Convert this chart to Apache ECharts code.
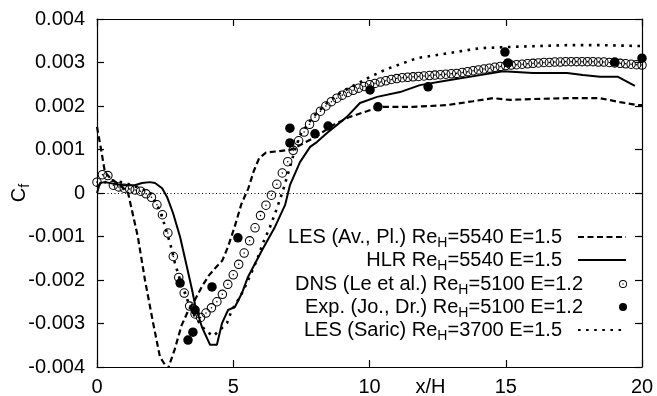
<!DOCTYPE html>
<html>
<head>
<meta charset="utf-8">
<script src="https://cdn.jsdelivr.net/npm/echarts@6/dist/echarts.min.js"></script>
<style>
  html, body { margin: 0; padding: 0; background: #fff; }
  #chart { width: 657px; height: 396px; }
</style>
</head>
<body>
<div id="chart"></div>
<script>
// Skin-friction coefficient along the lower wall, x/H from 0 to 20.

// LES (Av., Pl.), Re_H = 5540, E = 1.5
const lesAvX  = [0, 0.15, 0.29, 0.5, 0.84, 1.14, 1.5, 1.76, 2.06, 2.31, 2.6, 2.85, 3.1, 3.35, 3.6, 3.85, 4.1, 4.35, 4.6, 4.8, 5.05, 5.3, 5.55, 5.75, 5.95, 6.2, 7.08, 7.45, 8.07, 8.66, 9.28, 10.39, 11.6, 12.84, 13.8, 14.53, 15.16, 16.0, 17.25, 18.46, 19.19, 19.82, 20.0];
const lesAvCf = [0.00152, 0.00100, 0.00048, 0.00033, 0.00018, 0.0, -0.00101, -0.00200, -0.00299, -0.00377, -0.00405, -0.00360, -0.00305, -0.00270, -0.00245, -0.00215, -0.00190, -0.00172, -0.00155, -0.00125, -0.00078, -0.00025, 0.00010, 0.00050, 0.00080, 0.00093, 0.00099, 0.00110, 0.00131, 0.00156, 0.00175, 0.00198, 0.00198, 0.00202, 0.00211, 0.00218, 0.00214, 0.00216, 0.00218, 0.00218, 0.00209, 0.00202, 0.00202];

// HLR, Re_H = 5540, E = 1.5
const hlrX  = [0, 0.11, 0.29, 0.92, 1.39, 1.65, 1.94, 2.13, 2.39, 2.57, 2.79, 3.05, 3.30, 3.49, 3.60, 3.85, 4.15, 4.40, 4.59, 4.81, 5.06, 5.32, 5.54, 6.06, 6.53, 6.90, 7.08, 7.45, 7.82, 8.07, 8.44, 9.17, 9.65, 10.28, 11.12, 11.85, 12.95, 14.06, 14.90, 16.0, 17.25, 17.83, 18.46, 19.12, 19.74];
const hlrCf = [0.0, 0.00023, 0.00025, 0.00018, 0.00018, 0.00023, 0.00025, 0.00023, 0.00011, -0.00009, -0.00046, -0.00101, -0.00170, -0.00223, -0.00257, -0.00308, -0.00349, -0.00349, -0.00299, -0.00269, -0.00262, -0.00230, -0.00193, -0.00131, -0.00078, -0.00028, 0.00018, 0.00071, 0.00106, 0.00117, 0.00138, 0.00175, 0.00207, 0.00221, 0.00232, 0.00248, 0.00260, 0.00271, 0.00280, 0.00276, 0.00276, 0.00271, 0.00267, 0.00267, 0.00246];

// DNS (Le et al.), Re_H = 5100, E = 1.2
const dnsX  = [0.0, 0.2, 0.4, 0.6, 0.8, 1.0, 1.2, 1.4, 1.6, 1.8, 2.0, 2.2, 2.4, 2.6, 2.8, 3.0, 3.2, 3.4, 3.6, 3.8, 4.0, 4.2, 4.4, 4.6, 4.8, 5.0, 5.2, 5.4, 5.6, 5.8, 6.0, 6.2, 6.4, 6.6, 6.8, 7.0, 7.2, 7.4, 7.6, 7.8, 8.0, 8.2, 8.4, 8.6, 8.8, 9.0, 9.2, 9.4, 9.6, 9.8, 10.0, 10.2, 10.4, 10.6, 10.8, 11.0, 11.2, 11.4, 11.6, 11.8, 12.0, 12.2, 12.4, 12.6, 12.8, 13.0, 13.2, 13.4, 13.6, 13.8, 14.0, 14.2, 14.4, 14.6, 14.8, 15.0, 15.2, 15.4, 15.6, 15.8, 16.0, 16.2, 16.4, 16.6, 16.8, 17.0, 17.2, 17.4, 17.6, 17.8, 18.0, 18.2, 18.4, 18.6, 18.8, 19.0, 19.2, 19.4, 19.6, 19.8, 20.0];
const dnsCf = [0.00025, 0.00042, 0.00040, 0.00018, 0.00014, 0.00011, 0.00009, 0.00007, 0.00004, -0.00002, -0.00010, -0.00027, -0.00050, -0.00092, -0.00146, -0.00194, -0.00230, -0.00260, -0.00278, -0.00286, -0.00276, -0.00264, -0.00250, -0.00233, -0.00210, -0.00188, -0.00164, -0.00138, -0.00110, -0.00080, -0.00052, -0.00028, -0.00005, 0.00020, 0.00046, 0.00072, 0.00098, 0.00120, 0.00140, 0.00158, 0.00174, 0.00188, 0.00200, 0.00210, 0.00218, 0.00225, 0.00231, 0.00236, 0.00241, 0.00245, 0.00249, 0.00252, 0.00255, 0.00258, 0.00261, 0.00263, 0.00265, 0.00266, 0.00267, 0.00268, 0.00269, 0.00270, 0.00271, 0.00272, 0.00273, 0.00274, 0.00275, 0.00277, 0.00279, 0.00281, 0.00283, 0.00285, 0.00287, 0.00289, 0.00291, 0.00293, 0.00294, 0.00295, 0.00296, 0.00297, 0.00298, 0.00299, 0.00300, 0.00300, 0.00301, 0.00301, 0.00302, 0.00302, 0.00302, 0.00302, 0.00302, 0.00302, 0.00301, 0.00301, 0.00300, 0.00299, 0.00298, 0.00297, 0.00296, 0.00295, 0.00294];

// Experiment (Jo., Dr.), Re_H = 5100, E = 1.2
const expX  = [3.05, 3.34, 3.52, 3.60, 4.22, 5.17, 7.08, 7.08, 8.00, 8.48, 10.02, 10.31, 12.15, 14.97, 15.08, 19.00, 20.00];
const expCf = [-0.00207, -0.00338, -0.00320, -0.00269, -0.00216, -0.00103, 0.00115, 0.00149, 0.00136, 0.00154, 0.00237, 0.00198, 0.00244, 0.00324, 0.00299, 0.00301, 0.00310];

// LES (Saric), Re_H = 3700, E = 1.5
const saricX  = [0, 0.48, 1.03, 1.58, 1.94, 2.24, 2.39, 2.57, 2.75, 2.86, 3.05, 3.23, 3.41, 3.60, 3.96, 4.26, 4.51, 4.77, 4.95, 5.25, 5.50, 5.87, 6.09, 6.35, 6.61, 6.83, 7.08, 7.27, 7.45, 7.93, 8.44, 8.92, 9.39, 10.02, 10.64, 11.74, 12.95, 14.06, 15.27, 17.25, 18.46, 19.85, 20.0];
const saricCf = [0.00015, 0.00030, 0.00023, 0.00011, 0.00002, -0.00032, -0.00055, -0.00092, -0.00131, -0.00161, -0.00200, -0.00230, -0.00262, -0.00285, -0.00315, -0.00329, -0.00315, -0.00299, -0.00269, -0.00239, -0.00207, -0.00154, -0.00115, -0.00078, -0.00034, 0.00007, 0.00060, 0.00100, 0.00133, 0.00175, 0.00207, 0.00230, 0.00246, 0.00267, 0.00285, 0.00310, 0.00322, 0.00333, 0.00336, 0.00340, 0.00340, 0.00338, 0.00338];

// Legend captions
const seriesNames = ['LES (Av., Pl.)', 'HLR', 'DNS (Le et al.)', 'Exp. (Jo., Dr.)', 'LES (Saric)'];
const legendRe = ['5540', '5540', '5100', '5100', '3700'];
const legendE  = ['1.5', '1.5', '1.2', '1.2', '1.5'];

// Axis ticks
const xMin = 0, xMax = 20, xStep = 5;
const yMin = -0.004, yMax = 0.004, yStep = 0.001;

const FONT = 'Liberation Sans';
const FS = 20;
const zip = (xs, ys) => xs.map((x, i) => [x, ys[i]]);

// open ring with a centre dot
const ringDot = 'path://M0,-10A10,10 0 1,1 0,10A10,10 0 1,1 0,-10Z' +
  'M0,-7.8A7.8,7.8 0 1,0 0,7.8A7.8,7.8 0 1,0 0,-7.8Z' +
  'M0,-1.6A1.6,1.6 0 1,1 0,1.6A1.6,1.6 0 1,1 0,-1.6Z';

const chart = echarts.init(document.getElementById('chart'), null, { renderer: 'canvas' });

const subRich = {
  s: { fontFamily: FONT, fontSize: 14, color: '#000', verticalAlign: 'bottom', lineHeight: 15 },
  g: { width: 11 }
};

const lineSeries = [true, true, false, false, true];
const legendRows = [224, 247, 271, 294, 317];
const legends = seriesNames.map((name, i) => ({
  data: [name],
  orient: 'vertical',
  right: 30,
  top: legendRows[i],
  align: 'right',
  itemWidth: 48,
  itemHeight: 8,
  padding: 0,
  selectedMode: false,
  itemStyle: lineSeries[i] ? { opacity: 0 } : {},
  formatter: n => n + ' Re{s|H}=' + legendRe[i] + ' E=' + legendE[i] + '{g|}',
  textStyle: { fontFamily: FONT, fontSize: FS, color: '#000', lineHeight: 26, rich: subRich }
}));

const axisLine = { show: true, onZero: false, lineStyle: { color: '#000', width: 1.2 } };
const axisTick = { show: true, inside: true, length: 7, lineStyle: { color: '#000', width: 1.2 } };

chart.setOption({
  animation: false,
  backgroundColor: '#fff',
  grid: { left: 97, right: 15, top: 19, bottom: 29, containLabel: false, outerBoundsMode: 'none' },
  legend: legends,
  xAxis: [
    {
      type: 'value', min: xMin, max: xMax, interval: xStep, position: 'bottom',
      axisLine, axisTick, splitLine: { show: false },
      axisLabel: { fontFamily: FONT, fontSize: FS, color: '#000', margin: 10 },
      name: 'x/H', nameLocation: 'middle', nameGap: 10, nameMoveOverlap: false,
      nameTextStyle: { fontFamily: FONT, fontSize: FS, color: '#000', verticalAlign: 'top', padding: [0, 0, 0, 122] }
    },
    {
      type: 'value', min: xMin, max: xMax, interval: xStep, position: 'top',
      axisLine, axisTick, splitLine: { show: false }, axisLabel: { show: false }
    }
  ],
  yAxis: [
    {
      type: 'value', min: yMin, max: yMax, interval: yStep, position: 'left',
      axisLine, axisTick, splitLine: { show: false },
      axisLabel: {
        fontFamily: FONT, fontSize: FS, color: '#000', margin: 12,
        formatter: v => (Math.abs(v) < 1e-12 ? '0' : v.toFixed(3))
      },
      name: 'C{f|f}', nameLocation: 'middle', nameRotate: 90, nameGap: 65, nameMoveOverlap: false,
      nameTextStyle: {
        fontFamily: FONT, fontSize: FS, color: '#000', lineHeight: 26,
        rich: { f: { fontFamily: FONT, fontSize: 14, color: '#000', verticalAlign: 'bottom', lineHeight: 15 } }
      }
    },
    {
      type: 'value', min: yMin, max: yMax, interval: yStep, position: 'right',
      axisLine, axisTick, splitLine: { show: false }, axisLabel: { show: false }
    }
  ],
  series: [
    {
      name: seriesNames[2], type: 'scatter', data: zip(dnsX, dnsCf),
      symbol: ringDot, symbolSize: 9.5, itemStyle: { color: '#000', opacity: 1 }, z: 2
    },
    {
      name: seriesNames[0], type: 'line', data: zip(lesAvX, lesAvCf),
      symbol: 'none', showSymbol: false, clip: true, itemStyle: { color: '#000' },
      lineStyle: { color: '#000', width: 2.2, type: [6, 3.5] }, z: 3
    },
    {
      name: seriesNames[1], type: 'line', data: zip(hlrX, hlrCf),
      symbol: 'none', showSymbol: false, clip: true, itemStyle: { color: '#000' },
      lineStyle: { color: '#000', width: 2 }, z: 3,
      markLine: {
        silent: true, symbol: ['none', 'none'], label: { show: false },
        lineStyle: { color: '#000', width: 1, type: [1, 2.5] },
        data: [{ yAxis: 0 }]
      }
    },
    {
      name: seriesNames[4], type: 'line', data: zip(saricX, saricCf),
      symbol: 'none', showSymbol: false, clip: true, itemStyle: { color: '#000' },
      lineStyle: { color: '#000', width: 2.6, type: [2.6, 5.5] }, z: 3
    },
    {
      name: seriesNames[3], type: 'scatter', data: zip(expX, expCf),
      symbol: 'circle', symbolSize: 9.5, itemStyle: { color: '#000', opacity: 1 }, z: 4
    }
  ]
});
</script>
</body>
</html>
